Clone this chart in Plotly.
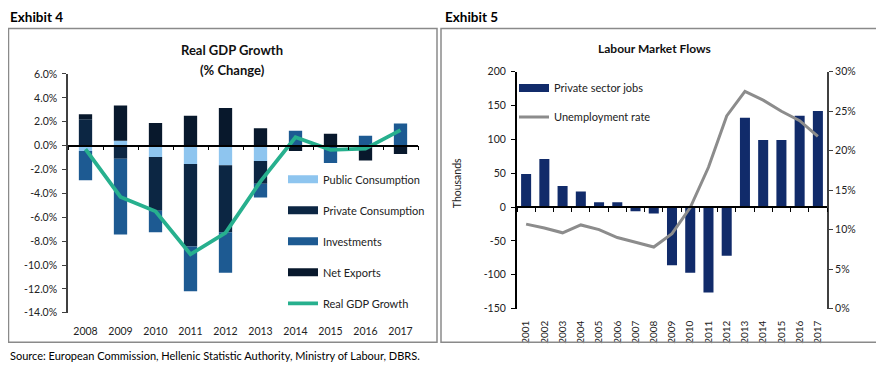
import plotly.graph_objects as go

# page body has an 8px default margin; the figure is sized to fit the 884x371 window
PAGE_W, PAGE_H = 884, 371
OFF = 8
W, H = PAGE_W - OFF, PAGE_H - OFF
FONT = "Lato"

# ---------------- Exhibit 4 data (percentage points) ----------------
gdp_years = ["2008", "2009", "2010", "2011", "2012", "2013", "2014", "2015", "2016", "2017"]
public_consumption = [-0.45, 0.40, -0.95, -1.55, -1.65, -1.30, 0.0, 0.0, 0.0, 0.0]
private_consumption = [2.20, -1.10, -4.50, -6.90, -5.60, -1.90, 0.0, 0.0, 0.0, 0.0]
investments = [-2.45, -6.35, -1.80, -3.75, -3.40, -1.15, 1.25, -1.45, 0.82, 1.85]
net_exports = [0.43, 2.95, 1.90, 2.50, 3.15, 1.45, -0.45, 1.00, -1.25, -0.70]
real_gdp_growth = [-0.3, -4.3, -5.5, -9.1, -7.3, -3.0, 0.7, -0.35, -0.25, 1.3]
gdp_tickvals = [-14, -12, -10, -8, -6, -4, -2, 0, 2, 4, 6]
gdp_ticktext = ["-14.0%", "-12.0%", "-10.0%", "-8.0%", "-6.0%", "-4.0%", "-2.0%",
                "0.0%", "2.0%", "4.0%", "6.0%"]

# ---------------- Exhibit 5 data ----------------
lab_years = [str(y) for y in range(2001, 2018)]
private_sector_jobs = [49, 71, 31, 23, 7, 7, -6, -9.5, -86, -97, -126, -72, 132, 99, 99, 135, 142]
unemployment_rate = [10.7, 10.2, 9.6, 10.6, 10.0, 9.0, 8.4, 7.8, 9.5, 12.8, 17.9, 24.4,
                     27.5, 26.4, 25.0, 23.8, 21.8]
jobs_tickvals = [-150, -100, -50, 0, 50, 100, 150, 200]
jobs_ticktext = ["-150", "-100", "-50", "0", "50", "100", "150", "200"]
unemp_tickvals = [0, 5, 10, 15, 20, 25, 30]
unemp_ticktext = ["0%", "5%", "10%", "15%", "20%", "25%", "30%"]

C_PUB = "#8EC5EF"
C_PRIV = "#0C2643"
C_INV = "#1D5A92"
C_NX = "#08182C"
C_GDP = "#27B08E"
C_JOBS = "#112B6A"
C_UNEMP = "#8C8C8C"


def px_x(p):
    return (p - OFF) / W


def px_y(p):
    return 1 - (p - OFF) / H


# domains
x1_dom = [px_x(68), px_x(418)]
y1_dom = [px_y(317), px_y(70)]
x2_dom = [px_x(517), px_x(827)]
y2_dom = [px_y(312.7), px_y(67.7)]
y1_range = [-14, 6]
y2_range = [-150, 200]
zero1 = y1_dom[0] + (0 - y1_range[0]) / (y1_range[1] - y1_range[0]) * (y1_dom[1] - y1_dom[0])
zero2 = y2_dom[0] + (0 - y2_range[0]) / (y2_range[1] - y2_range[0]) * (y2_dom[1] - y2_dom[0])

fig = go.Figure()

# ---- Left chart bars ----
for name, vals, col in [("Public Consumption", public_consumption, C_PUB),
                        ("Private Consumption", private_consumption, C_PRIV),
                        ("Investments", investments, C_INV),
                        ("Net Exports", net_exports, C_NX)]:
    fig.add_trace(go.Bar(x=gdp_years, y=vals, marker=dict(color=col, line=dict(width=0)),
                         width=0.38, name=name, showlegend=False, xaxis="x", yaxis="y"))
fig.add_trace(go.Scatter(x=gdp_years, y=real_gdp_growth, mode="lines",
                         line=dict(color=C_GDP, width=3.8), name="Real GDP Growth",
                         showlegend=False, xaxis="x", yaxis="y"))
# legend entries (left)
for i, (name, col, w) in enumerate([("Public Consumption", C_PUB, 8),
                                    ("Private Consumption", C_PRIV, 8),
                                    ("Investments", C_INV, 8),
                                    ("Net Exports", C_NX, 8),
                                    ("Real GDP Growth", C_GDP, 3.8)]):
    fig.add_trace(go.Scatter(x=[None], y=[None], mode="lines", line=dict(color=col, width=w),
                             name=name, legend="legend", legendgroup="g%d" % i,
                             xaxis="x", yaxis="y"))
# label axis carrier
fig.add_trace(go.Scatter(x=gdp_years, y=[None] * len(gdp_years), mode="lines",
                         showlegend=False, hoverinfo="skip", xaxis="x3", yaxis="y"))

# ---- Right chart ----
fig.add_trace(go.Bar(x=lab_years, y=private_sector_jobs, marker=dict(color=C_JOBS, line=dict(width=0)),
                     width=0.55, name="Private sector jobs", showlegend=False,
                     xaxis="x2", yaxis="y2"))
fig.add_trace(go.Scatter(x=lab_years, y=unemployment_rate, mode="lines",
                         line=dict(color=C_UNEMP, width=3), name="Unemployment rate",
                         showlegend=False, xaxis="x2", yaxis="y3"))
for i, (name, col, w) in enumerate([("Private sector jobs", C_JOBS, 8),
                                    ("Unemployment rate", C_UNEMP, 3)]):
    fig.add_trace(go.Scatter(x=[None], y=[None], mode="lines", line=dict(color=col, width=w),
                             name=name, legend="legend2", legendgroup="h%d" % i,
                             xaxis="x2", yaxis="y2"))
fig.add_trace(go.Scatter(x=lab_years, y=[None] * len(lab_years), mode="lines",
                         showlegend=False, hoverinfo="skip", xaxis="x4", yaxis="y2"))

tickfont = dict(family=FONT, size=10.5, color="#222222")

fig.update_layout(
    width=W, height=H,
    margin=dict(l=0, r=0, t=0, b=0),
    paper_bgcolor="white", plot_bgcolor="white",
    barmode="relative",
    font=dict(family=FONT, color="#222222"),
    showlegend=True,
    xaxis=dict(domain=x1_dom, anchor="free", position=zero1, type="category",
               categoryorder="array", categoryarray=gdp_years, range=[-0.5, 9.5],
               showline=True, linecolor="black", linewidth=1.5,
               ticks="outside", tickson="boundaries", ticklen=4, tickcolor="black",
               showticklabels=False, showgrid=False, zeroline=False),
    xaxis3=dict(overlaying="x", anchor="y", type="category",
                categoryorder="array", categoryarray=gdp_years, range=[-0.5, 9.5],
                showline=False, ticks="", showticklabels=True, tickfont=tickfont,
                ticklabelstandoff=11, showgrid=False, zeroline=False),
    yaxis=dict(domain=y1_dom, anchor="x", range=y1_range, tickmode="array",
               tickvals=gdp_tickvals, ticktext=gdp_ticktext, tickfont=tickfont,
               showline=True, linecolor="#404040", linewidth=1.5,
               ticks="outside", ticklen=4, tickcolor="#404040", ticklabelstandoff=3,
               showgrid=False, zeroline=False),
    xaxis2=dict(domain=x2_dom, anchor="free", position=zero2, type="category",
                categoryorder="array", categoryarray=lab_years, range=[-0.5, 16.5],
                showline=True, linecolor="black", linewidth=1.5,
                ticks="outside", tickson="boundaries", ticklen=4, tickcolor="black",
                showticklabels=False, showgrid=False, zeroline=False),
    xaxis4=dict(overlaying="x2", anchor="y2", type="category",
                categoryorder="array", categoryarray=lab_years, range=[-0.5, 16.5],
                showline=False, ticks="", showticklabels=True, tickangle=-90,
                tickfont=dict(family=FONT, size=10, color="#222222"),
                ticklabelstandoff=9, showgrid=False, zeroline=False),
    yaxis2=dict(domain=y2_dom, anchor="x2", range=y2_range, tickmode="array",
                tickvals=jobs_tickvals, ticktext=jobs_ticktext, tickfont=tickfont,
                showline=True, linecolor="black", linewidth=2,
                ticks="outside", ticklen=4, tickcolor="black", ticklabelstandoff=3,
                showgrid=False, zeroline=False),
    yaxis3=dict(overlaying="y2", anchor="x2", side="right", range=[0, 30], tickmode="array",
                tickvals=unemp_tickvals, ticktext=unemp_ticktext, tickfont=tickfont,
                showline=True, linecolor="#404040", linewidth=2,
                ticks="outside", ticklen=4, tickcolor="#404040",
                showgrid=False, zeroline=False),
    legend=dict(x=px_x(283), y=px_y(164), xanchor="left", yanchor="top",
                font=dict(family=FONT, size=11, color="#222222"),
                bgcolor="rgba(0,0,0,0)", tracegroupgap=12, itemwidth=30,
                traceorder="grouped"),
    legend2=dict(x=px_x(514), y=px_y(69.5), xanchor="left", yanchor="top",
                 font=dict(family=FONT, size=11, color="#222222"),
                 bgcolor="rgba(0,0,0,0)", tracegroupgap=10, itemwidth=30,
                 traceorder="grouped"),
    shapes=[
        dict(type="rect", xref="paper", yref="paper", x0=px_x(8.5), x1=px_x(437),
             y0=px_y(347.5), y1=px_y(23), line=dict(color="#8A8A8A", width=1.5)),
        dict(type="rect", xref="paper", yref="paper", x0=px_x(441), x1=px_x(878),
             y0=px_y(347.5), y1=px_y(23), line=dict(color="#8A8A8A", width=1.5)),
    ],
    annotations=[
        dict(text="<b>Exhibit 4</b>", x=px_x(8), y=px_y(11), xref="paper", yref="paper",
             xanchor="left", yanchor="middle", showarrow=False,
             font=dict(family=FONT, size=13.5, color="black")),
        dict(text="<b>Exhibit 5</b>", x=px_x(443), y=px_y(11), xref="paper", yref="paper",
             xanchor="left", yanchor="middle", showarrow=False,
             font=dict(family=FONT, size=13.5, color="black")),
        dict(text="<b>Real GDP Growth</b>", x=px_x(232), y=px_y(45),
             xref="paper", yref="paper", xanchor="center", yanchor="middle",
             showarrow=False, font=dict(family=FONT, size=13, color="#111111")),
        dict(text="<b>(% Change)</b>", x=px_x(232), y=px_y(66),
             xref="paper", yref="paper", xanchor="center", yanchor="middle",
             showarrow=False, font=dict(family=FONT, size=13, color="#111111")),
        dict(text="<b>Labour Market Flows</b>", x=px_x(654), y=px_y(44),
             xref="paper", yref="paper", xanchor="center", yanchor="middle",
             showarrow=False, font=dict(family=FONT, size=12, color="#111111")),
        dict(text="Thousands", x=px_x(457), y=px_y(183), xref="paper", yref="paper",
             xanchor="center", yanchor="middle", textangle=-90, showarrow=False,
             font=dict(family=FONT, size=10.5, color="#222222")),
        dict(text="Source: European Commission, Hellenic Statistic Authority, Ministry of Labour, DBRS.",
             x=px_x(8), y=px_y(361), xref="paper", yref="paper",
             xanchor="left", yanchor="middle", showarrow=False,
             font=dict(family=FONT, size=11, color="black")),
    ],
)

fig.write_html("out.html")
